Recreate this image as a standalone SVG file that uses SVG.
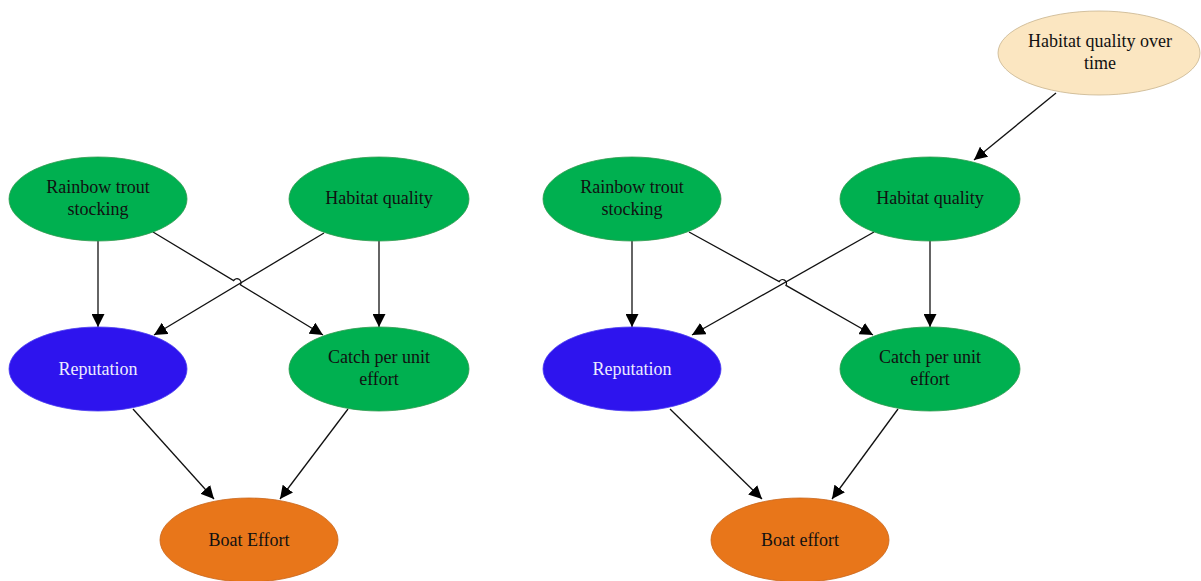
<svg xmlns="http://www.w3.org/2000/svg" width="1201" height="581" viewBox="0 0 1201 581">
  <defs>
    <marker id="arrow" viewBox="0 0 10 10" refX="10" refY="5" markerWidth="13" markerHeight="13" markerUnits="userSpaceOnUse" orient="auto">
      <path d="M0,0 L10,5 L0,10 z" fill="#000"/>
    </marker>
    <style>
      .green { fill: #00b050; stroke: #2e9a4e; stroke-width: 0.8; }
      .blue { fill: #2e14ee; stroke: #4a3cf0; stroke-width: 0.8; }
      .orange { fill: #e8761a; stroke: #c9661a; stroke-width: 0.8; }
      .beige { fill: #fbe6c1; stroke: #c8b48e; stroke-width: 0.8; }
      text { font-family: "Liberation Serif", "Times New Roman", serif; font-size: 18px; text-anchor: middle; fill: #111; }
      text.light { fill: #ecebff; }
      .edge { fill: none; stroke: #111; stroke-width: 1.3; marker-end: url(#arrow); }
      .edge-plain { fill: none; stroke: #111; stroke-width: 1.3; }
    </style>
  </defs>
  <rect width="1201" height="581" fill="#fff"/>

  <!-- connectors -->
  <g id="connectors">
    <!-- left network -->
    <line class="edge" x1="98" y1="241" x2="98" y2="327"/>
    <line class="edge" x1="379" y1="241" x2="379" y2="327"/>
    <line class="edge" x1="324" y1="233" x2="154" y2="335"/>
    <path class="edge" d="M153,232 L233.6,280.6 A3.5,3.5 0 0 1 240.4,284.7 L323,335"/>
    <line class="edge" x1="133" y1="409" x2="214" y2="499"/>
    <line class="edge" x1="348" y1="409" x2="280" y2="499"/>

    <!-- right network -->
    <line class="edge" x1="632" y1="241" x2="632" y2="327"/>
    <line class="edge" x1="930" y1="241" x2="930" y2="327"/>
    <line class="edge" x1="874" y1="232" x2="692" y2="335"/>
    <path class="edge" d="M689,232 L779.2,281.6 A3.5,3.5 0 0 1 786,285.4 L873,335"/>
    <line class="edge" x1="670" y1="409" x2="762" y2="499"/>
    <line class="edge" x1="898" y1="409" x2="832" y2="499"/>
    <line class="edge" x1="1056" y1="93" x2="974" y2="160"/>
  </g>

  <!-- left network nodes -->
  <g id="l-stocking">
    <ellipse class="green" cx="98" cy="199" rx="89" ry="42"/>
    <text x="98" y="193">Rainbow trout</text>
    <text x="98" y="215">stocking</text>
  </g>
  <g id="l-habitat">
    <ellipse class="green" cx="379" cy="199" rx="90" ry="42"/>
    <text x="379" y="204">Habitat quality</text>
  </g>
  <g id="l-reputation">
    <ellipse class="blue" cx="98" cy="369" rx="89" ry="42"/>
    <text class="light" x="98" y="375">Reputation</text>
  </g>
  <g id="l-cpue">
    <ellipse class="green" cx="379" cy="369" rx="90" ry="42"/>
    <text x="379" y="363">Catch per unit</text>
    <text x="379" y="385">effort</text>
  </g>
  <g id="l-boat">
    <ellipse class="orange" cx="249" cy="540" rx="89" ry="42"/>
    <text x="249" y="546">Boat Effort</text>
  </g>

  <!-- right network nodes -->
  <g id="r-habitat-time">
    <ellipse class="beige" cx="1099" cy="53" rx="101" ry="42"/>
    <text x="1100" y="47">Habitat quality over</text>
    <text x="1100" y="69">time</text>
  </g>
  <g id="r-stocking">
    <ellipse class="green" cx="632" cy="199" rx="89" ry="42"/>
    <text x="632" y="193">Rainbow trout</text>
    <text x="632" y="215">stocking</text>
  </g>
  <g id="r-habitat">
    <ellipse class="green" cx="930" cy="199" rx="90" ry="42"/>
    <text x="930" y="204">Habitat quality</text>
  </g>
  <g id="r-reputation">
    <ellipse class="blue" cx="632" cy="369" rx="89" ry="42"/>
    <text class="light" x="632" y="375">Reputation</text>
  </g>
  <g id="r-cpue">
    <ellipse class="green" cx="930" cy="369" rx="90" ry="42"/>
    <text x="930" y="363">Catch per unit</text>
    <text x="930" y="385">effort</text>
  </g>
  <g id="r-boat">
    <ellipse class="orange" cx="800" cy="540" rx="89" ry="42"/>
    <text x="800" y="546">Boat effort</text>
  </g>
</svg>
